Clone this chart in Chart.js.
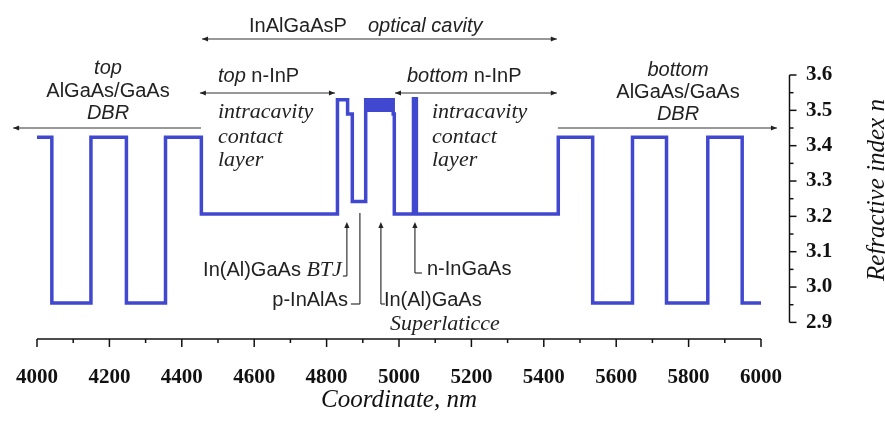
<!DOCTYPE html>
<html>
<head>
<meta charset="utf-8">
<script src="https://cdn.jsdelivr.net/npm/chart.js@4.4.0/dist/chart.umd.min.js"></script>
<style>
  html, body { margin: 0; padding: 0; background: #fff; }
  #wrap { width: 885px; height: 421px; }
</style>
</head>
<body>
<div id="wrap"><canvas id="myChart" width="885" height="421"></canvas></div>
<script>
// layer start coordinate (nm) and refractive index of that layer (step profile)
const layerStart = [
  4000, 4041, 4149, 4247, 4355, 4454,
  4830, 4858, 4871,
  4908, 4912, 4916, 4920, 4924, 4928, 4932, 4936, 4940, 4944,
  4948, 4952, 4956, 4960, 4964, 4968, 4972, 4976, 4980, 4984,
  4987, 5040, 5048,
  5440, 5535, 5645, 5739, 5853, 5948, 6000
];
const layerIndex = [
  3.424, 2.955, 3.424, 2.955, 3.424, 3.207,
  3.530, 3.490, 3.242,
  3.530, 3.500, 3.530, 3.500, 3.530, 3.500, 3.530, 3.500, 3.530, 3.500,
  3.530, 3.500, 3.530, 3.500, 3.530, 3.500, 3.530, 3.500, 3.530, 3.490,
  3.207, 3.533, 3.207,
  3.424, 2.955, 3.424, 2.955, 3.424, 2.955, 2.955
];
const xTickValues = [4000, 4200, 4400, 4600, 4800, 5000, 5200, 5400, 5600, 5800, 6000];
const yTickValues = [2.9, 3.0, 3.1, 3.2, 3.3, 3.4, 3.5, 3.6];

const SANS = '"Liberation Sans", Arial, sans-serif';
const SERIF = '"Liberation Serif", "Times New Roman", serif';
const INK = '#222';

function seg(ctx, x1, y1, x2, y2) {
  ctx.beginPath();
  ctx.moveTo(x1, y1);
  ctx.lineTo(x2, y2);
  ctx.stroke();
}

// small filled arrow head at (x, y) pointing along (dx, dy)
function head(ctx, x, y, dx, dy) {
  const len = 6, half = 2.6;
  const nx = -dy, ny = dx;
  ctx.beginPath();
  ctx.moveTo(x, y);
  ctx.lineTo(x - dx * len + nx * half, y - dy * len + ny * half);
  ctx.lineTo(x - dx * len - nx * half, y - dy * len - ny * half);
  ctx.closePath();
  ctx.fill();
}

function hArrow(ctx, x1, x2, y, leftHead, rightHead) {
  seg(ctx, x1, y, x2, y);
  if (leftHead) head(ctx, x1, y, -1, 0);
  if (rightHead) head(ctx, x2, y, 1, 0);
}

// draw runs of text with different fonts one after another
function runs(ctx, parts, x, y, align) {
  let total = 0;
  parts.forEach(p => { ctx.font = p[1]; total += ctx.measureText(p[0]).width; });
  let cx = align === 'center' ? x - total / 2 : align === 'right' ? x - total : x;
  ctx.textAlign = 'left';
  parts.forEach(p => {
    ctx.font = p[1];
    ctx.fillText(p[0], cx, y);
    cx += ctx.measureText(p[0]).width;
  });
}

const annotate = {
  id: 'annotate',
  afterDraw(chart) {
    const ctx = chart.ctx;
    const xs = chart.scales.x, ys = chart.scales.y;
    const area = chart.chartArea;
    const px = v => xs.getPixelForValue(v);
    const py = v => ys.getPixelForValue(v);
    ctx.save();

    // x axis line with major / minor ticks
    ctx.strokeStyle = '#111';
    ctx.lineWidth = 1.5;
    seg(ctx, area.left, area.bottom, area.right, area.bottom);
    for (let v = 4000; v <= 6000; v += 100) {
      const major = v % 200 === 0;
      seg(ctx, px(v), area.bottom, px(v), area.bottom + (major ? 8 : 4));
    }

    // y axis, detached to the right of the plot
    const ax = area.right + 28.5;
    seg(ctx, ax, py(3.6), ax, py(2.9));
    for (let k = 0; k <= 14; k++) {
      const v = 2.9 + k * 0.05;
      seg(ctx, ax, py(v), ax + (k % 2 === 0 ? 7 : 4), py(v));
    }

    // y title, reading bottom to top
    ctx.save();
    ctx.translate(877, 190);
    ctx.rotate(-Math.PI / 2);
    ctx.fillStyle = '#111';
    ctx.font = 'italic 25px ' + SERIF;
    ctx.textAlign = 'center';
    ctx.textBaseline = 'middle';
    ctx.fillText('Refractive index n', 0, 0);
    ctx.restore();

    ctx.fillStyle = INK;
    ctx.strokeStyle = '#333';
    ctx.lineWidth = 1.2;
    ctx.textBaseline = 'middle';
    const sans = '20px ' + SANS, sansI = 'italic 20px ' + SANS;
    const serifI = 'italic 22px ' + SERIF;

    // optical cavity
    runs(ctx, [['InAlGaAsP', sans]], 249, 26, 'left');
    runs(ctx, [['optical cavity', sansI]], 368, 26, 'left');
    hArrow(ctx, px(4456), px(5436), 39, true, true);

    // n-InP contact layers
    runs(ctx, [['top', sansI], [' n-InP', sans]], 218, 76, 'left');
    hArrow(ctx, px(4450), px(4823), 93, true, true);
    runs(ctx, [['bottom', sansI], [' n-InP', sans]], 407, 76, 'left');
    hArrow(ctx, px(4989), px(5436), 93, true, true);

    // DBRs
    runs(ctx, [['top', sansI]], 108, 68.5, 'center');
    runs(ctx, [['AlGaAs/GaAs', sans]], 108, 91, 'center');
    runs(ctx, [['DBR', sansI]], 108, 113.5, 'center');
    hArrow(ctx, px(3934), px(4453), 128, true, false);
    runs(ctx, [['bottom', sansI]], 678, 70, 'center');
    runs(ctx, [['AlGaAs/GaAs', sans]], 678, 92.5, 'center');
    runs(ctx, [['DBR', sansI]], 678, 114.5, 'center');
    hArrow(ctx, px(5439), px(6044), 128, false, true);

    // intracavity contact layer captions
    [218, 432].forEach(x => {
      runs(ctx, [['intracavity', serifI]], x, 112, 'left');
      runs(ctx, [['contact', serifI]], x, 137, 'left');
      runs(ctx, [['layer', serifI]], x, 160, 'left');
    });

    // pointers to thin layers
    const tipY = 222;
    let x = px(4856);
    runs(ctx, [['In(Al)GaAs ', sans], ['BTJ', serifI]], x - 5, 270, 'right');
    seg(ctx, x - 4, 276, x, 276);
    seg(ctx, x, 276, x, tipY + 4);
    head(ctx, x, tipY, 0, -1);

    x = px(4892);
    runs(ctx, [['p-InAlAs', sans]], x - 12, 300, 'right');
    seg(ctx, x - 9, 304, x, 304);
    seg(ctx, x, 304, x, 213);

    x = px(4950);
    runs(ctx, [['In(Al)GaAs', sans]], x + 3, 300, 'left');
    runs(ctx, [['Superlaticce', serifI]], x + 9, 324, 'left');
    seg(ctx, x, 304, x + 4, 304);
    seg(ctx, x, 304, x, tipY + 4);
    head(ctx, x, tipY, 0, -1);

    x = px(5044);
    runs(ctx, [['n-InGaAs', sans]], x + 12, 269, 'left');
    seg(ctx, x, 273, x + 7, 273);
    seg(ctx, x, 273, x, tipY + 4);
    head(ctx, x, tipY, 0, -1);

    ctx.restore();
  }
};

const points = layerStart.map((v, i) => ({ x: v, y: layerIndex[i] }));

new Chart(document.getElementById('myChart'), {
  type: 'line',
  data: {
    datasets: [{
      label: 'Refractive index',
      data: points,
      stepped: 'before',
      borderColor: '#4048cf',
      borderWidth: 3.5,
      pointRadius: 0,
      fill: false,
      clip: false
    }]
  },
  options: {
    responsive: false,
    animation: false,
    devicePixelRatio: 1,
    layout: { padding: { left: 37, top: 75, right: 0, bottom: 0 } },
    plugins: { legend: { display: false }, tooltip: { enabled: false } },
    scales: {
      x: {
        type: 'linear',
        min: 4000,
        max: 6000,
        afterBuildTicks: s => { s.ticks = xTickValues.map(v => ({ value: v })); },
        afterFit: s => { s.height = 82; s.paddingLeft = 0; s.paddingRight = 0; },
        grid: { display: false, drawTicks: false },
        border: { display: false },
        ticks: {
          padding: 26,
          maxRotation: 0,
          color: '#111',
          font: { family: SERIF, weight: 'bold', size: 21 },
          callback: v => String(v)
        },
        title: {
          display: true,
          text: 'Coordinate, nm',
          color: '#111',
          font: { family: SERIF, style: 'italic', size: 25 },
          padding: { top: 0, bottom: 6 }
        }
      },
      y: {
        position: 'right',
        min: 2.853,
        max: 3.6,
        afterBuildTicks: s => { s.ticks = yTickValues.map(v => ({ value: v })); },
        afterFit: s => { s.width = 124; },
        grid: { display: false, drawTicks: false },
        border: { display: false },
        ticks: {
          padding: 45,
          color: '#111',
          font: { family: SERIF, weight: 'bold', size: 21 },
          callback: v => v.toFixed(1)
        }
      }
    }
  },
  plugins: [annotate]
});
</script>
</body>
</html>
